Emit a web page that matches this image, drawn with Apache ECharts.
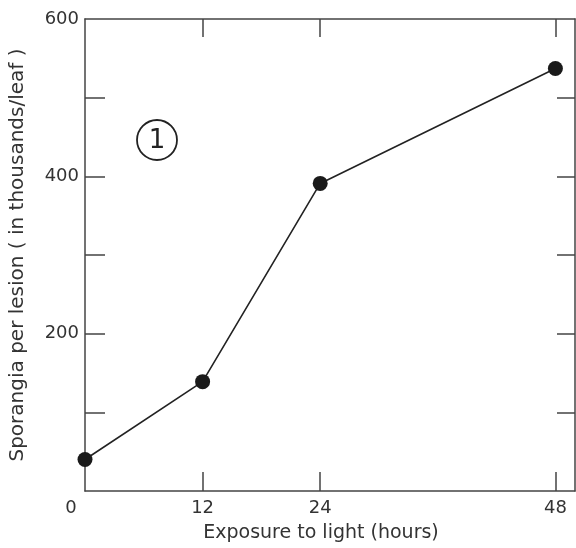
<!DOCTYPE html>
<html>
<head>
<meta charset="utf-8">
<script src="https://cdn.jsdelivr.net/npm/echarts@6/dist/echarts.min.js"></script>
<style>html,body{margin:0;padding:0;background:#fff;}#c{width:576px;height:548px;}</style>
</head>
<body>
<div id="c"></div>
<script>
// Data
const hours = [0, 12, 24, 48];
const sporangia = [40, 139, 391, 537];
const xTickLabels = [0, 12, 24, 48];
const xTicks = [12, 24, 48];
const yTickLabels = [200, 400, 600];
const yTicks = [100, 200, 300, 400, 500];

const ink = '#333';
const font = 'DejaVu Sans';
const axisLine = { show: true, onZero: false, lineStyle: { color: '#444', width: 1.5 } };
const tickStyle = { color: '#444', width: 1.5 };

const chart = echarts.init(document.getElementById('c'));
chart.setOption({
  animation: false,
  backgroundColor: '#fff',
  grid: { left: 85, top: 19, width: 490, height: 475 },
  xAxis: [{
    type: 'value', min: 0, max: 50, position: 'bottom',
    axisLine: axisLine,
    axisTick: { show: true, inside: true, length: 19, customValues: xTicks, lineStyle: tickStyle },
    axisLabel: {
      customValues: xTickLabels, margin: 8, color: ink, fontFamily: font, fontSize: 18,
      formatter: v => v === 0 ? '{z|0}' : String(v),
      rich: { z: { padding: [0, 28, 0, 0], fontSize: 18, fontFamily: font, color: ink } }
    },
    splitLine: { show: false },
    name: 'Exposure to light (hours)', nameLocation: 'middle', nameGap: 33,
    nameTextStyle: { color: ink, fontFamily: font, fontSize: 19, padding: [0, 18, 0, 0] }
  }, {
    type: 'value', min: 0, max: 50, position: 'top',
    axisLine: axisLine,
    axisTick: { show: true, inside: true, length: 18, customValues: xTicks, lineStyle: tickStyle },
    axisLabel: { show: false },
    splitLine: { show: false }
  }],
  yAxis: [{
    type: 'value', min: 0, max: 600, position: 'left',
    axisLine: axisLine,
    axisTick: { show: true, inside: true, length: 20, customValues: yTicks, lineStyle: tickStyle },
    axisLabel: { customValues: yTickLabels, margin: 6, color: ink, fontFamily: font, fontSize: 18 },
    splitLine: { show: false },
    name: 'Sporangia per lesion ( in thousands/leaf )', nameLocation: 'middle', nameGap: 57,
    nameTextStyle: { color: ink, fontFamily: font, fontSize: 20 }
  }, {
    type: 'value', min: 0, max: 600, position: 'right',
    axisLine: axisLine,
    axisTick: { show: true, inside: true, length: 18, customValues: yTicks, lineStyle: tickStyle },
    axisLabel: { show: false },
    splitLine: { show: false }
  }],
  graphic: [
    { type: 'circle', shape: { cx: 157, cy: 140, r: 20 }, style: { fill: 'none', stroke: '#222', lineWidth: 1.8 } },
    { type: 'text', x: 157, y: 141, style: { text: '1', font: '26px "DejaVu Sans"', fill: '#222', align: 'center', verticalAlign: 'middle' } }
  ],
  series: [{
    type: 'line',
    data: hours.map((h, i) => [h, sporangia[i]]),
    symbol: 'circle', symbolSize: 15,
    lineStyle: { color: '#222', width: 1.6 },
    itemStyle: { color: '#1a1a1a' },
    clip: false
  }]
});
</script>
</body>
</html>
